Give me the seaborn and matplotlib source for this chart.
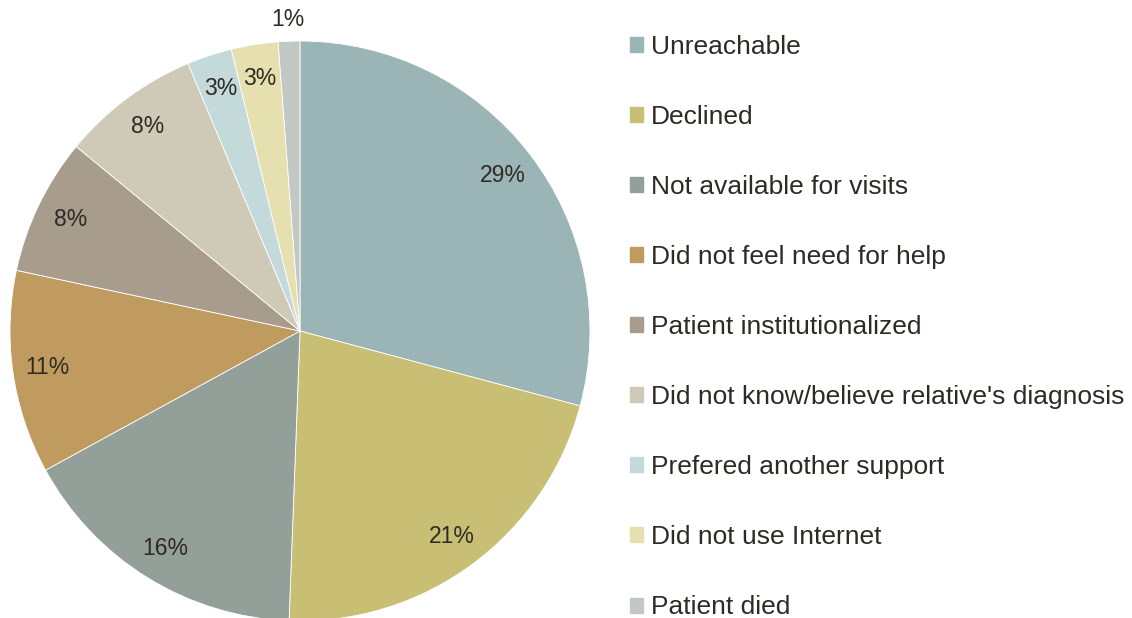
import matplotlib
matplotlib.use("Agg")
import matplotlib.pyplot as plt
import matplotlib.patches as mpatches
import seaborn as sns

categories = ["Unreachable", "Declined", "Not available for visits",
              "Did not feel need for help", "Patient institutionalized",
              "Did not know/believe relative's diagnosis",
              "Prefered another support", "Did not use Internet", "Patient died"]
shares = [29.1, 21.4, 16.4, 11.3, 7.6, 7.7, 2.5, 2.6, 1.2]
colors = ["#9bb4b5", "#c8bf75", "#939f99", "#bf9b5f", "#a89c8c",
          "#cecab7", "#c4d9d9", "#e6dfb0", "#c2c8c4"]

sns.set_style("white")
plt.rcParams["font.family"] = ["Liberation Sans", "DejaVu Sans"]
text_color = "#2e2b24"

fig = plt.figure(figsize=(11.32, 6.18), dpi=100)
ax = fig.add_axes([10 / 1132, -3 / 618, 580 / 1132, 580 / 618])

wedges, texts, autotexts = ax.pie(
    shares, colors=colors, startangle=90, counterclock=False,
    autopct="%.0f%%", pctdistance=0.88, radius=1,
    wedgeprops=dict(edgecolor="white", linewidth=0.6),
    textprops=dict(color=text_color, fontsize=16.5))
# smallest slice label sits outside the pie
x, y = autotexts[-1].get_position()
autotexts[-1].set_position((x * 1.22, y * 1.22))

ax.set_xlim(-1, 1)
ax.set_ylim(-1, 1)
ax.set_aspect("equal")
ax.axis("off")

handles = [mpatches.Patch(color=c, label=l) for c, l in zip(colors, categories)]
leg = fig.legend(handles=handles, loc="upper left", bbox_to_anchor=(630 / 1132, 1 - 35 / 618),
                 frameon=False, fontsize=19, labelspacing=1.745, handlelength=0.5,
                 handleheight=0.5, handletextpad=0.3, borderpad=0, borderaxespad=0)
for t in leg.get_texts():
    t.set_color(text_color)

fig.savefig("out.png", dpi=100)
